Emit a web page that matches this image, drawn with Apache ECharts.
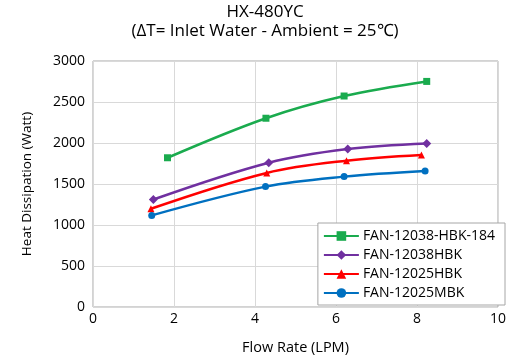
<!DOCTYPE html>
<html><head><meta charset="utf-8">
<script src="https://cdn.jsdelivr.net/npm/echarts@6/dist/echarts.min.js"></script>
<style>html,body{margin:0;padding:0;background:#fff}#c{width:530px;height:360px}</style>
</head><body><div id="c"></div>
<script>
const titleLines = ['HX-480YC', '(ΔT= Inlet Water - Ambient = 25℃)'];
const xTitle = 'Flow Rate (LPM)';
const yTitle = 'Heat Dissipation (Watt)';
const seriesNames = ['FAN-12038-HBK-184', 'FAN-12038HBK', 'FAN-12025HBK', 'FAN-12025MBK'];
const colors = ['#1aab4e', '#7030a0', '#ff0000', '#0070c0'];
const symbols = ['rect', 'diamond', 'triangle', 'circle'];
const hbk184X = [1.84, 4.27, 6.2, 8.24];
const hbk184Y = [1820, 2302, 2573, 2751];
const hbk38X = [1.49, 4.34, 6.29, 8.24];
const hbk38Y = [1311, 1760, 1926, 1994];
const hbk25X = [1.43, 4.29, 6.26, 8.11];
const hbk25Y = [1198, 1635, 1784, 1853];
const mbk25X = [1.45, 4.26, 6.2, 8.2];
const mbk25Y = [1117, 1468, 1590, 1659];
const xs = [hbk184X, hbk38X, hbk25X, mbk25X];
const ys = [hbk184Y, hbk38Y, hbk25Y, mbk25Y];
const font = 'Open Sans';
const chart = echarts.init(document.getElementById('c'), null, {renderer: 'canvas'});
chart.setOption({
  animation: false,
  textStyle: {fontFamily: font},
  title: {
    text: titleLines.join('\n'), left: 'center', top: -2,
    textStyle: {fontFamily: font, fontSize: 17, fontWeight: 'normal', color: '#000', lineHeight: 19}
  },
  grid: {left: 93, right: 32, top: 61, bottom: 52, show: true, borderColor: '#a6a6a6', borderWidth: 1},
  xAxis: {
    type: 'value', min: 0, max: 10, interval: 2,
    name: xTitle, nameLocation: 'middle', nameGap: 33,
    nameTextStyle: {fontFamily: font, fontSize: 14.5, color: '#000'},
    axisLine: {show: false}, axisTick: {show: false},
    axisLabel: {fontFamily: font, fontSize: 14, color: '#000', margin: 5},
    splitLine: {lineStyle: {color: '#d9d9d9'}}
  },
  yAxis: {
    type: 'value', min: 0, max: 3000, interval: 500,
    name: yTitle, nameLocation: 'middle', nameGap: 59,
    nameTextStyle: {fontFamily: font, fontSize: 13.5, color: '#000'},
    axisLine: {show: false}, axisTick: {show: false},
    axisLabel: {fontFamily: font, fontSize: 14, color: '#000', margin: 8, formatter: v => String(v)},
    splitLine: {lineStyle: {color: '#d9d9d9'}}
  },
  legend: {
    orient: 'vertical', right: 25, bottom: 55,
    backgroundColor: '#fff', borderColor: '#a6a6a6', borderWidth: 1,
    padding: [6, 10, 5, 5], itemGap: 5, itemWidth: 35, itemHeight: 12,
    textStyle: {fontFamily: font, fontSize: 14, color: '#000', padding: [0, 0, 0, -1]},
    data: seriesNames
  },
  series: seriesNames.map((n, i) => ({
    name: n, type: 'line', smooth: 0.35,
    data: xs[i].map((x, j) => [x, ys[i][j]]),
    symbol: symbols[i], symbolSize: i === 1 ? 9 : 7,
    lineStyle: {color: colors[i], width: 2.5},
    itemStyle: {color: colors[i]}
  }))
});
</script></body></html>
